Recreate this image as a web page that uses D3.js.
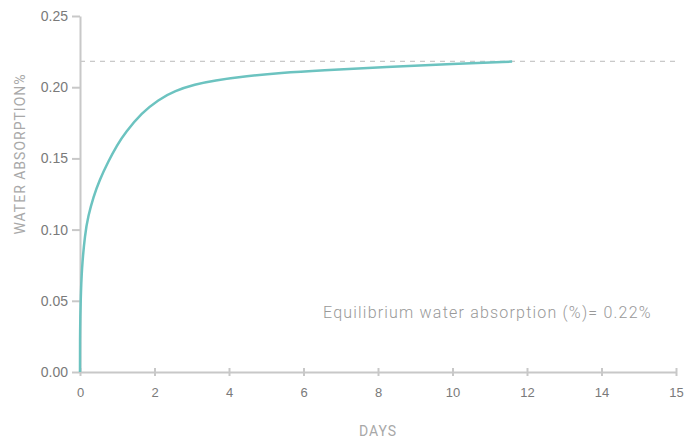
<!DOCTYPE html>
<html>
<head>
<meta charset="UTF-8">
<script src="https://d3js.org/d3.v7.min.js"></script>
<style>
  html, body { margin: 0; padding: 0; background: #fff; overflow: hidden; }
  svg { font-family: Roboto, sans-serif; }
  .axis path, .axis line { stroke: #c8c8c8; stroke-width: 2px; }
  .axis text { fill: #7a7a7a; font-size: 13px; font-weight: 500; }
  .title { fill: #a8a8a8; font-size: 14px; letter-spacing: 1px; }
</style>
</head>
<body>
<svg id="chart" width="685" height="439"></svg>
<script>
// readings
const days =       [0, 0.001, 0.018, 0.045, 0.134, 0.22, 0.36, 0.52, 0.76, 1.0, 1.21, 1.66, 2.10, 2.55, 3.09, 3.58, 4.48, 5.38, 6.45, 8.24, 10.03, 11.6];
const absorption = [0, 0.03, 0.05, 0.072, 0.097, 0.1095, 0.123, 0.1345, 0.148, 0.1595, 0.1680, 0.1820, 0.1912, 0.1975, 0.2020, 0.2046, 0.2078, 0.2100, 0.2118, 0.2142, 0.2165, 0.2180];
const equilibrium = 0.2182;

const xTicks = [0, 2, 4, 6, 8, 10, 12, 14, 16];
const xTickLabels = ["0", "2", "4", "6", "8", "10", "12", "14", "15"];
const yTicks = [0, 0.05, 0.10, 0.15, 0.20, 0.25];

const svg = d3.select("#chart");
const x = d3.scaleLinear().domain([0, 16]).range([80, 676]);
const y = d3.scaleLinear().domain([0, 0.25]).range([372, 16]);

// equilibrium reference line
svg.append("line")
  .attr("x1", x(0)).attr("x2", 678)
  .attr("y1", y(equilibrium)).attr("y2", y(equilibrium))
  .attr("stroke", "#bbb").attr("stroke-width", 1)
  .attr("stroke-dasharray", "5,5");

// axes
const gx = svg.append("g").attr("class", "axis")
  .attr("transform", `translate(0,${y(0)})`)
  .call(d3.axisBottom(x).tickValues(xTicks)
    .tickFormat((d, i) => xTickLabels[i]).tickSize(4).tickSizeOuter(0).tickPadding(12));
gx.selectAll(".tick line").attr("y1", -4).attr("stroke-width", 1);

const gy = svg.append("g").attr("class", "axis")
  .attr("transform", `translate(${x(0)},0)`)
  .call(d3.axisLeft(y).tickValues(yTicks)
    .tickFormat(d3.format(".2f")).tickSize(8).tickSizeOuter(0).tickPadding(4));
gy.selectAll(".tick line").attr("stroke-width", 1.5);
gy.selectAll("text").style("font-size", "14px");

// curve
const pts = days.map((d, i) => [d, absorption[i]]);
svg.append("path")
  .datum(pts)
  .attr("fill", "none")
  .attr("stroke", "#6cc3c0")
  .attr("stroke-width", 2.5)
  .attr("d", d3.line().x(d => x(d[0])).y(d => y(d[1])).curve(d3.curveBasis));

// titles
svg.append("text").attr("class", "title")
  .attr("text-anchor", "middle")
  .attr("transform", "translate(25,154) rotate(-90)")
  .text("WATER ABSORPTION%");

svg.append("text").attr("class", "title")
  .attr("text-anchor", "middle")
  .attr("x", 378).attr("y", 436)
  .text("DAYS");

svg.append("text")
  .attr("x", 323).attr("y", 318)
  .attr("fill", "#999").style("font-size", "16px").style("font-weight", 300)
  .style("letter-spacing", "1.2px")
  .text("Equilibrium water absorption (%)= 0.22%");
</script>
</body>
</html>
